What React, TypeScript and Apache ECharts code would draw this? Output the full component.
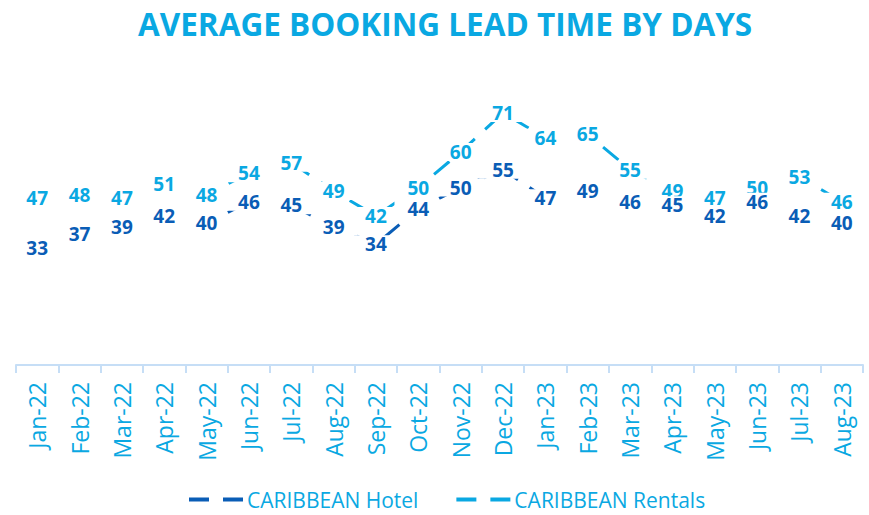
import React, { useEffect, useRef } from "react";
import * as echarts from "echarts";

const categories = [
  "Jan-22", "Feb-22", "Mar-22", "Apr-22", "May-22", "Jun-22", "Jul-22", "Aug-22", "Sep-22", "Oct-22",
  "Nov-22", "Dec-22", "Jan-23", "Feb-23", "Mar-23", "Apr-23", "May-23", "Jun-23", "Jul-23", "Aug-23",
];
const hotelValues = [33, 37, 39, 42, 40, 46, 45, 39, 34, 44, 50, 55, 47, 49, 46, 45, 42, 46, 42, 40];
const rentalValues = [47, 48, 47, 51, 48, 54, 57, 49, 42, 50, 60, 71, 64, 65, 55, 49, 47, 50, 53, 46];

const LIGHT = "#0AA8E2";
const DARK = "#0A5DB6";
const FONT = "'Open Sans', 'Noto Sans', sans-serif";

export default function App() {
  const ref = useRef<HTMLDivElement>(null);
  useEffect(() => {
    if (!ref.current) return;
    const chart = echarts.init(ref.current, null, { renderer: "svg" });
    const mkSeries = (name: string, data: number[], color: string, z: number) => ({
      name,
      type: "line",
      data,
      z,
      symbol: "circle",
      symbolSize: 1,
      itemStyle: { color },
      lineStyle: { color, width: 3, type: [20, 14], dashOffset: 6 },
      label: {
        show: true,
        position: "inside",
        color,
        fontFamily: FONT,
        fontWeight: "bold",
        fontSize: 19,
        lineHeight: 15,
        backgroundColor: "#ffffff",
        padding: [2, 13, 1, 13],
      },
      labelLayout: { hideOverlap: false },
    });
    chart.setOption({
      animation: false,
      title: {
        text: "AVERAGE BOOKING LEAD TIME BY DAYS",
        left: 133,
        top: 2,
        textStyle: { color: LIGHT, fontFamily: FONT, fontWeight: "bold", fontSize: 31.5 },
      },
      grid: { left: 16, right: 6, top: 81, bottom: 150, containLabel: false },
      legend: {
        bottom: 0,
        left: 184,
        itemGap: 38,
        itemWidth: 54,
        itemHeight: 4,
        textStyle: { color: LIGHT, fontFamily: FONT, fontSize: 21, padding: [0, 0, 0, -1] },
        data: [
          { name: "CARIBBEAN Hotel", icon: "path://M0,0h20v4h-20z M34,0h20v4h-20z" },
          { name: "CARIBBEAN Rentals", icon: "path://M0,0h20v4h-20z M34,0h20v4h-20z" },
        ],
      },
      xAxis: {
        type: "category",
        data: categories,
        boundaryGap: true,
        axisLine: { lineStyle: { color: "#C6DEF6", width: 2 } },
        axisTick: { show: true, interval: 0, length: 8, lineStyle: { color: "#C6DEF6", width: 2 } },
        axisLabel: {
          interval: 0,
          rotate: 90,
          margin: 17,
          color: LIGHT,
          fontFamily: FONT,
          fontSize: 23,
        },
      },
      yAxis: {
        type: "value",
        min: 0,
        max: 80,
        show: false,
        splitLine: { show: false },
      },
      series: [
        mkSeries("CARIBBEAN Hotel", hotelValues, DARK, 3),
        mkSeries("CARIBBEAN Rentals", rentalValues, LIGHT, 2),
      ],
    });
    return () => chart.dispose();
  }, []);
  return <div ref={ref} style={{ width: 869, height: 515, position: "absolute", left: 0, top: 0 }} />;
}
